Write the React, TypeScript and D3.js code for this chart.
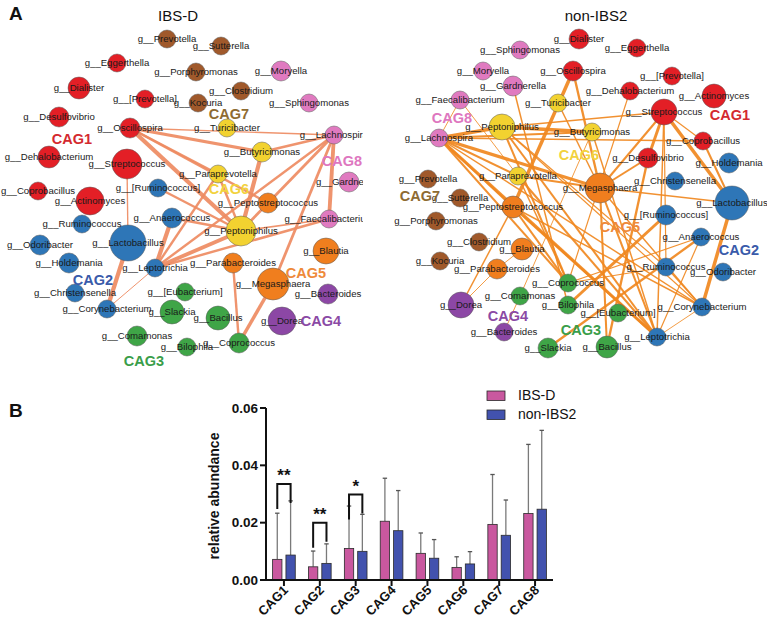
import React from "react";
import * as d3 from "d3";

// ---------- Bar chart data ----------
const categories = ["CAG1", "CAG2", "CAG3", "CAG4", "CAG5", "CAG6", "CAG7", "CAG8"];
const groups = ["IBS-D", "non-IBS2"];
const ibsdMean = [0.0072, 0.0046, 0.0110, 0.0205, 0.0093, 0.0044, 0.0194, 0.0232];
const ibsdErr = [0.0233, 0.0101, 0.0258, 0.0355, 0.0164, 0.0081, 0.0368, 0.0473];
const nonMean = [0.0087, 0.0058, 0.0100, 0.0172, 0.0076, 0.0056, 0.0156, 0.0247];
const nonErr = [0.0276, 0.0126, 0.0229, 0.0312, 0.0141, 0.0099, 0.0279, 0.0522];
const yTicks = [0, 0.02, 0.04, 0.06];
const sigCats = ["CAG1", "CAG2", "CAG3"];
const sigStars = ["**", "**", "*"];
const sigLevel = [0.0335, 0.0200, 0.0298];

// ---------- Network data ----------
const cagNames = ["CAG1", "CAG2", "CAG3", "CAG4", "CAG5", "CAG6", "CAG7", "CAG8"];
const cagMembers: Record<string, string[]> = {
  CAG1: ["Eggerthella", "Dialister", "[Prevotella]", "Desulfovibrio", "Oscillospira", "Dehalobacterium", "Streptococcus", "Coprobacillus", "Actinomyces"],
  CAG2: ["[Ruminococcus]", "Ruminococcus", "Anaerococcus", "Odoribacter", "Lactobacillus", "Holdemania", "Leptotrichia", "Christensenella", "Corynebacterium"],
  CAG3: ["[Eubacterium]", "Slackia", "Comamonas", "Bacillus", "Bilophila", "Coprococcus"],
  CAG4: ["Bacteroides", "Dorea"],
  CAG5: ["Peptostreptococcus", "Blautia", "Parabacteroides", "Megasphaera"],
  CAG6: ["Turicibacter", "Butyricimonas", "Paraprevotella", "Peptoniphilus"],
  CAG7: ["Prevotella", "Sutterella", "Porphyromonas", "Clostridium", "Kocuria"],
  CAG8: ["Moryella", "Sphingomonas", "Lachnospira", "Gardnerella", "Faecalibacterium"],
};

// edges: [source, target, correlation strength]
const ibsdEdges: [string, string, number][] = [
  ["Oscillospira", "Lachnospira", 0.35],
  ["Oscillospira", "Paraprevotella", 0.5],
  ["Oscillospira", "Peptoniphilus", 0.75],
  ["Oscillospira", "Peptostreptococcus", 0.5],
  ["Oscillospira", "Butyricimonas", 0.6],
  ["Streptococcus", "Lactobacillus", 0.35],
  ["Lactobacillus", "Corynebacterium", 0.75],
  ["Anaerococcus", "Leptotrichia", 0.75],
  ["Leptotrichia", "Corynebacterium", 0.3],
  ["Leptotrichia", "Lachnospira", 0.5],
  ["Leptotrichia", "Peptoniphilus", 0.7],
  ["Leptotrichia", "Faecalibacterium", 0.5],
  ["Leptotrichia", "Paraprevotella", 0.5],
  ["Butyricimonas", "Peptoniphilus", 0.75],
  ["Butyricimonas", "Lachnospira", 0.55],
  ["Peptoniphilus", "Lachnospira", 0.55],
  ["Lachnospira", "Faecalibacterium", 0.7],
  ["Lachnospira", "Megasphaera", 0.55],
  ["Megasphaera", "Coprococcus", 0.65],
  ["Parabacteroides", "Coprococcus", 0.5],
  ["Anaerococcus", "Peptoniphilus", 0.5],
  ["Paraprevotella", "Peptoniphilus", 0.5],
  ["[Ruminococcus]", "Peptoniphilus", 0.5],
  ["Peptoniphilus", "Faecalibacterium", 0.4],
];

const nonEdges: [string, string, number][] = [
  ["Lachnospira", "Peptoniphilus", 0.75],
  ["Lachnospira", "Butyricimonas", 0.5],
  ["Lachnospira", "Megasphaera", 0.7],
  ["Lachnospira", "Paraprevotella", 0.5],
  ["Lachnospira", "Peptostreptococcus", 0.55],
  ["Lachnospira", "Leptotrichia", 0.65],
  ["Lachnospira", "Corynebacterium", 0.4],
  ["Lachnospira", "Coprococcus", 0.5],
  ["Lachnospira", "Coprobacillus", 0.4],
  ["Faecalibacterium", "Lachnospira", 0.3],
  ["Faecalibacterium", "Paraprevotella", 0.3],
  ["Gardnerella", "Bilophila", 0.4],
  ["Oscillospira", "Peptostreptococcus", 0.75],
  ["Oscillospira", "Megasphaera", 0.55],
  ["Peptoniphilus", "Butyricimonas", 0.75],
  ["Peptoniphilus", "Coprococcus", 0.5],
  ["Peptoniphilus", "Leptotrichia", 0.5],
  ["Peptoniphilus", "Streptococcus", 0.4],
  ["Peptoniphilus", "Corynebacterium", 0.35],
  ["Streptococcus", "Lactobacillus", 0.75],
  ["Streptococcus", "Desulfovibrio", 0.65],
  ["Streptococcus", "Megasphaera", 0.5],
  ["Streptococcus", "Coprobacillus", 0.35],
  ["Streptococcus", "Ruminococcus", 0.35],
  ["Streptococcus", "Leptotrichia", 0.4],
  ["Dehalobacterium", "Coprococcus", 0.35],
  ["Desulfovibrio", "Megasphaera", 0.5],
  ["Desulfovibrio", "Bacillus", 0.55],
  ["Coprobacillus", "Lactobacillus", 0.5],
  ["Lactobacillus", "Megasphaera", 0.4],
  ["Lactobacillus", "Corynebacterium", 0.75],
  ["[Ruminococcus]", "Bilophila", 0.65],
  ["Slackia", "Anaerococcus", 0.55],
  ["Anaerococcus", "Coprococcus", 0.35],
  ["Anaerococcus", "Leptotrichia", 0.35],
  ["Corynebacterium", "Megasphaera", 0.4],
  ["Corynebacterium", "Peptostreptococcus", 0.4],
  ["Corynebacterium", "Leptotrichia", 0.3],
  ["Corynebacterium", "Ruminococcus", 0.35],
  ["Leptotrichia", "Paraprevotella", 0.5],
  ["Leptotrichia", "Peptostreptococcus", 0.55],
  ["Leptotrichia", "Megasphaera", 0.5],
  ["Ruminococcus", "Coprococcus", 0.35],
  ["Peptostreptococcus", "Coprococcus", 0.5],
  ["Peptostreptococcus", "Dorea", 0.4],
  ["Paraprevotella", "Megasphaera", 0.5],
  ["Paraprevotella", "Coprococcus", 0.4],
  ["Dorea", "Parabacteroides", 0.3],
  ["Parabacteroides", "Blautia", 0.3],
  ["Bacteroides", "Comamonas", 0.3],
  ["Comamonas", "Butyricimonas", 0.3],
  ["Butyricimonas", "Leptotrichia", 0.4],
  ["Turicibacter", "Megasphaera", 0.4],
  ["Megasphaera", "Bacillus", 0.5],
  ["Peptoniphilus", "Ruminococcus", 0.35],
];

// ---------- Layouts (positions / node sizes) ----------
const ibsdLayout: Record<string, [number, number, number]> = {
  Prevotella: [167, 39, 9], Eggerthella: [117, 63, 9], Sutterella: [221, 46, 9],
  Porphyromonas: [196, 72, 9], Moryella: [281, 71, 10], Dialister: [79, 88, 11],
  Clostridium: [241, 91, 9], "[Prevotella]": [145, 99, 9], Kocuria: [198, 103, 9],
  Sphingomonas: [309, 103, 9], Desulfovibrio: [59, 117, 10], Oscillospira: [130, 128, 10],
  Turicibacter: [227, 128, 9], Lachnospira: [334, 135, 9], Butyricimonas: [262, 152, 10],
  Dehalobacterium: [49, 157, 11], Streptococcus: [127, 164, 15], Paraprevotella: [218, 174, 9],
  Gardnerella: [349, 182, 10], "[Ruminococcus]": [158, 188, 9], Coprobacillus: [38, 191, 9],
  Actinomyces: [90, 201, 14], Peptostreptococcus: [268, 203, 10], Anaerococcus: [172, 218, 10],
  Faecalibacterium: [329, 219, 9], Ruminococcus: [82, 224, 9], Peptoniphilus: [241, 231, 15],
  Odoribacter: [40, 245, 10], Lactobacillus: [128, 243, 18], Blautia: [326, 251, 13],
  Holdemania: [69, 263, 10], Parabacteroides: [233, 263, 10], Leptotrichia: [155, 268, 9],
  Megasphaera: [273, 284, 16], "[Eubacterium]": [185, 292, 9], Christensenella: [75, 293, 9],
  Bacteroides: [328, 294, 10], Corynebacterium: [107, 309, 9], Slackia: [172, 312, 12],
  Bacillus: [218, 318, 12], Dorea: [282, 321, 14], Comamonas: [137, 336, 10],
  Coprococcus: [239, 343, 10], Bilophila: [187, 347, 9],
};
const ibsdCagPos: Record<string, [number, number]> = {
  CAG1: [72, 139], CAG2: [93, 280], CAG3: [144, 361], CAG4: [321, 321],
  CAG5: [306, 273], CAG6: [229, 189], CAG7: [229, 114], CAG8: [342, 161],
};

const nonLayout: Record<string, [number, number, number]> = {
  Dialister: [579, 39, 10], Eggerthella: [637, 48, 9], Sphingomonas: [520, 50, 9],
  Moryella: [483, 71, 9], Oscillospira: [573, 71, 10], "[Prevotella]": [672, 76, 9],
  Gardnerella: [513, 86, 10], Dehalobacterium: [630, 91, 9], Actinomyces: [714, 96, 12],
  Faecalibacterium: [460, 100, 9], Turicibacter: [558, 103, 9], Streptococcus: [664, 112, 13],
  Peptoniphilus: [502, 127, 13], Butyricimonas: [592, 132, 9], Lachnospira: [439, 138, 9],
  Coprobacillus: [703, 141, 9], Desulfovibrio: [648, 158, 10], Holdemania: [729, 163, 10],
  Paraprevotella: [518, 176, 9], Prevotella: [428, 179, 9], Christensenella: [675, 181, 9],
  Megasphaera: [600, 188, 15], Sutterella: [460, 198, 9], Lactobacillus: [732, 203, 17],
  Peptostreptococcus: [513, 207, 11], "[Ruminococcus]": [666, 215, 10], Porphyromonas: [436, 221, 9],
  Anaerococcus: [701, 237, 9], Clostridium: [479, 242, 9], Blautia: [522, 249, 11],
  Kocuria: [440, 261, 9], Ruminococcus: [666, 267, 9], Parabacteroides: [497, 269, 10],
  Odoribacter: [723, 272, 9], Coprococcus: [568, 283, 9], Comamonas: [520, 296, 9],
  Bilophila: [568, 305, 9], Dorea: [461, 305, 13], Corynebacterium: [702, 307, 9],
  "[Eubacterium]": [618, 313, 9], Bacteroides: [504, 332, 9], Leptotrichia: [657, 337, 9],
  Bacillus: [607, 347, 11], Slackia: [548, 348, 10],
};
const nonCagPos: Record<string, [number, number]> = {
  CAG1: [730, 115], CAG2: [739, 250], CAG3: [581, 330], CAG4: [508, 316],
  CAG5: [620, 227], CAG6: [579, 155], CAG7: [420, 196], CAG8: [452, 118],
};

// ---------- Styles ----------
const nodeColor = d3.scaleOrdinal<string, string>()
  .domain(cagNames)
  .range(["#E31F26", "#2E76B7", "#3FA547", "#8C47A5", "#F07E1E", "#F2D230", "#A0592B", "#E07AC0"]);
const cagTextColor = d3.scaleOrdinal<string, string>()
  .domain(cagNames)
  .range(["#D42A2F", "#3A5BAA", "#3A9E4A", "#8B4AA5", "#EE8A3A", "#F2D23E", "#8E6B32", "#DE77BF"]);

const cagOf: Record<string, string> = {};
cagNames.forEach((c) => cagMembers[c].forEach((n) => (cagOf[n] = c)));

const FONT = "'Liberation Sans', Arial, Helvetica, sans-serif";
const NARROW = "'Liberation Sans Narrow', 'Arial Narrow', 'Liberation Sans', Arial, sans-serif";

function Network({ layout, edges, cagPos, edgeColor, clipId, clipW, clipX, widthRange }: any) {
  const names = Object.keys(layout);
  const edgeWidth = d3.scaleLinear().domain([0.3, 0.75]).range(widthRange);
  return (
    <g clipPath={`url(#${clipId})`}>
      <defs>
        <clipPath id={clipId}>
          <rect x={clipX} y={25} width={clipW} height={370} />
        </clipPath>
      </defs>
      {edges.map(([a, b, w]: [string, string, number], i: number) => {
        const pa = layout[a];
        const pb = layout[b];
        return (
          <line key={i} x1={pa[0]} y1={pa[1]} x2={pb[0]} y2={pb[1]}
            stroke={edgeColor} strokeWidth={edgeWidth(w)} strokeOpacity={0.92} />
        );
      })}
      {names.map((n) => {
        const [x, y, r] = layout[n];
        return <circle key={n} cx={x} cy={y} r={r} fill={nodeColor(cagOf[n])} stroke="#5a5a5a" strokeWidth={0.5} />;
      })}
      {names.map((n) => {
        const [x, y] = layout[n];
        return (
          <text key={"t" + n} x={x} y={y + 3.4} textAnchor="middle" fontSize={9.6} fontFamily={FONT} fill="#1a1a1a">
            {"g__" + n}
          </text>
        );
      })}
      {cagNames.map((c) => {
        const [x, y] = cagPos[c];
        return (
          <text key={c} x={x} y={y + 5} textAnchor="middle" fontSize={14.5} fontWeight="bold" fontFamily={NARROW} fill={cagTextColor(c)}>
            {c}
          </text>
        );
      })}
    </g>
  );
}

function BarChart() {
  const x0 = 266, x1 = 553, yBase = 580, yTop = 408;
  const x = d3.scaleBand<string>().domain(categories).range([x0, x1]).paddingInner(0).paddingOuter(0);
  const xi = d3.scaleBand<string>().domain(groups).range([-12, 12]).paddingInner(0.3).paddingOuter(0.05);
  const y = d3.scaleLinear().domain([0, 0.06]).range([yBase, yTop]);
  const fills = ["#C9589F", "#4252AE"];
  const means = [ibsdMean, nonMean];
  const errs = [ibsdErr, nonErr];
  return (
    <g fontFamily={FONT}>
      {categories.map((c, ci) => {
        const cx = (x(c) as number) + x.bandwidth() / 2;
        return groups.map((g, gi) => {
          const bx = cx + (xi(g) as number);
          const bw = xi.bandwidth();
          const m = means[gi][ci];
          const e = errs[gi][ci];
          const mx = bx + bw / 2;
          return (
            <g key={c + g}>
              <line x1={mx} x2={mx} y1={y(m)} y2={y(e)} stroke="#7a7a7a" strokeWidth={1.3} />
              <line x1={mx - 2.2} x2={mx + 2.2} y1={y(e)} y2={y(e)} stroke="#555" strokeWidth={1.3} />
              <rect x={bx} y={y(m)} width={bw} height={yBase - y(m)} fill={fills[gi]} stroke="#2a2a2a" strokeWidth={0.8} />
            </g>
          );
        });
      })}
      {sigCats.map((c, i) => {
        const cx = (x(c) as number) + x.bandwidth() / 2;
        const xa = cx + (xi("IBS-D") as number) + xi.bandwidth() / 2;
        const xb = cx + (xi("non-IBS2") as number) + xi.bandwidth() / 2;
        const yl = y(sigLevel[i]);
        return (
          <g key={"s" + c}>
            <path d={`M${xa},${yl + 25}V${yl}H${xb}V${yl + 19}`} fill="none" stroke="#111" strokeWidth={2} />
            <text x={(xa + xb) / 2} y={yl - 3} textAnchor="middle" fontSize={17} fontWeight="bold" fill="#111">{sigStars[i]}</text>
          </g>
        );
      })}
      <line x1={x0} x2={x0} y1={yTop} y2={yBase + 1} stroke="#111" strokeWidth={2} />
      <line x1={x0 - 1} x2={x1} y1={yBase} y2={yBase} stroke="#111" strokeWidth={2} />
      {yTicks.map((t) => (
        <g key={t}>
          <line x1={x0 - 6} x2={x0} y1={y(t)} y2={y(t)} stroke="#111" strokeWidth={2} />
          <text x={x0 - 8} y={y(t) + 4.5} textAnchor="end" fontSize={13.5} fontWeight="bold" fill="#111">{t.toFixed(2)}</text>
        </g>
      ))}
      {categories.map((c) => {
        const cx = (x(c) as number) + x.bandwidth() / 2;
        return (
          <g key={"x" + c}>
            <line x1={cx} x2={cx} y1={yBase} y2={yBase + 6} stroke="#111" strokeWidth={2} />
            <text transform={`translate(${cx + 5},${yBase + 11}) rotate(-45)`} textAnchor="end" fontSize={13} fontWeight="bold" fill="#111">{c}</text>
          </g>
        );
      })}
      <text transform={`translate(219,${(yTop + yBase) / 2 + 2}) rotate(-90)`} textAnchor="middle" fontSize={14} fontWeight="bold" fill="#111">relative abundance</text>
      {groups.map((g, i) => (
        <g key={"l" + g}>
          <rect x={487} y={391 + i * 19} width={18} height={9.5} fill={fills[i]} stroke="#2a2a2a" strokeWidth={0.8} />
          <text x={518} y={400 + i * 19} fontSize={14} fill="#111">{g}</text>
        </g>
      ))}
    </g>
  );
}

export default function App() {
  return (
    <svg width={767} height={626} viewBox="0 0 767 626"
      style={{ position: "absolute", left: 0, top: 0, background: "#fff" }}>
      <rect width={767} height={626} fill="#fff" />
      <text x={9} y={20} fontSize={19} fontWeight="bold" fontFamily={FONT} fill="#111">A</text>
      <text x={9} y={417} fontSize={19} fontWeight="bold" fontFamily={FONT} fill="#111">B</text>
      <text x={178} y={21} textAnchor="middle" fontSize={15} fontFamily={FONT} fill="#111">IBS-D</text>
      <text x={596} y={21} textAnchor="middle" fontSize={15} fontFamily={FONT} fill="#111">non-IBS2</text>
      <Network layout={ibsdLayout} edges={ibsdEdges} cagPos={ibsdCagPos} edgeColor="#EE8B62" clipId="clipL" clipX={0} clipW={363} widthRange={[1, 4.2]} />
      <Network layout={nonLayout} edges={nonEdges} cagPos={nonCagPos} edgeColor="#F0881F" clipId="clipR" clipX={385} clipW={382} widthRange={[0.9, 3.5]} />
      <BarChart />
    </svg>
  );
}
